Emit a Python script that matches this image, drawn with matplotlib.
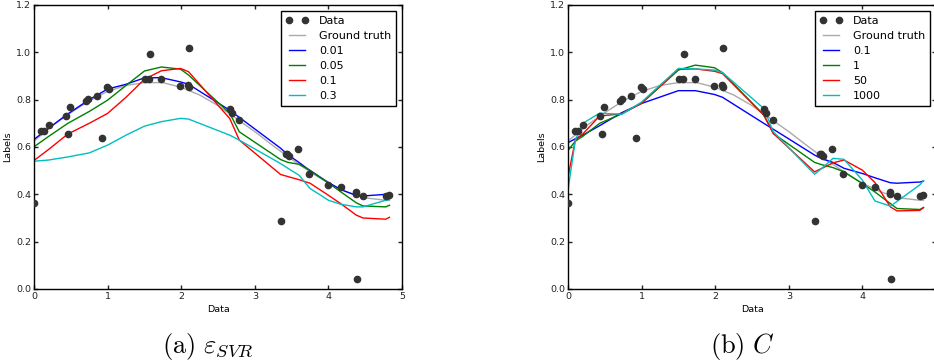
import matplotlib
matplotlib.use("Agg")
import matplotlib.pyplot as plt

plt.rcParams['mathtext.fontset'] = 'cm'

# Observed data
data_x = [0.0, 0.09, 0.14, 0.2, 0.43, 0.46, 0.49, 0.71, 0.74, 0.86, 0.93, 0.99, 1.02,
          1.51, 1.56, 1.58, 1.73, 1.99, 2.09, 2.10, 2.11, 2.66, 2.69, 2.79, 3.35, 3.42,
          3.44, 3.46, 3.59, 3.74, 4.00, 4.17, 4.38, 4.38, 4.39, 4.47, 4.78, 4.83]
data_y = [0.364, 0.667, 0.667, 0.695, 0.732, 0.656, 0.767, 0.795, 0.801, 0.817, 0.639,
          0.852, 0.843, 0.886, 0.887, 0.992, 0.887, 0.858, 0.860, 1.017, 0.852, 0.759,
          0.745, 0.712, 0.289, 0.571, 0.571, 0.564, 0.591, 0.487, 0.439, 0.432, 0.410,
          0.400, 0.044, 0.394, 0.395, 0.396]

# Ground truth
gt_x = [0.0, 0.25, 0.5, 0.75, 1.0, 1.25, 1.5, 1.75, 2.0, 2.25, 2.5, 2.75, 3.0, 3.25,
        3.5, 3.75, 4.0, 4.25, 4.5, 4.75, 4.83]
gt_y = [0.625, 0.69, 0.745, 0.795, 0.835, 0.86, 0.872, 0.872, 0.852, 0.82, 0.775, 0.72,
        0.665, 0.605, 0.548, 0.495, 0.447, 0.41, 0.385, 0.376, 0.375]

# (a) epsilon_SVR fits
fit_x_a = [0.0, 0.2, 0.46, 0.75, 1.0, 1.25, 1.5, 1.73, 1.99, 2.1, 2.66, 2.79, 3.35,
           3.45, 3.6, 3.75, 4.0, 4.17, 4.38, 4.47, 4.78, 4.83]
eps_labels = ['0.01', '0.05', '0.1', '0.3']
eps_001 = [0.632, 0.68, 0.74, 0.80, 0.845, 0.865, 0.892, 0.893, 0.875, 0.865, 0.755,
           0.725, 0.595, 0.567, 0.535, 0.50, 0.45, 0.42, 0.395, 0.393, 0.40, 0.40]
eps_005 = [0.601, 0.645, 0.70, 0.75, 0.798, 0.86, 0.921, 0.938, 0.929, 0.904, 0.742,
           0.664, 0.547, 0.535, 0.527, 0.502, 0.448, 0.41, 0.364, 0.351, 0.347, 0.354]
eps_01 = [0.543, 0.59, 0.655, 0.70, 0.742, 0.81, 0.886, 0.922, 0.932, 0.918, 0.72,
          0.629, 0.484, 0.475, 0.462, 0.447, 0.396, 0.36, 0.312, 0.30, 0.295, 0.303]
eps_03 = [0.540, 0.545, 0.558, 0.575, 0.608, 0.65, 0.688, 0.707, 0.721, 0.718, 0.650,
          0.629, 0.530, 0.51, 0.481, 0.425, 0.375, 0.358, 0.347, 0.347, 0.375, 0.378]

# (b) C fits
fit_x_b = [0.0, 0.1, 0.2, 0.43, 0.73, 1.0, 1.5, 1.73, 1.99, 2.1, 2.66, 2.79, 3.35,
           3.45, 3.6, 3.75, 4.0, 4.17, 4.38, 4.47, 4.78, 4.83]
c_labels = ['0.1', '1', '50', '1000']
c_01 = [0.618, 0.635, 0.65, 0.69, 0.745, 0.784, 0.838, 0.838, 0.822, 0.81, 0.70, 0.675,
        0.566, 0.55, 0.535, 0.51, 0.488, 0.47, 0.449, 0.447, 0.452, 0.456]
c_1 = [0.585, 0.625, 0.645, 0.70, 0.74, 0.785, 0.925, 0.946, 0.935, 0.914, 0.735, 0.657,
       0.535, 0.525, 0.513, 0.495, 0.445, 0.41, 0.361, 0.340, 0.336, 0.344]
c_50 = [0.474, 0.63, 0.655, 0.731, 0.74, 0.785, 0.928, 0.93, 0.92, 0.91, 0.735, 0.657,
        0.495, 0.51, 0.533, 0.545, 0.502, 0.45, 0.347, 0.330, 0.332, 0.344]
c_1000 = [0.418, 0.63, 0.70, 0.743, 0.738, 0.79, 0.932, 0.93, 0.925, 0.914, 0.763, 0.664,
          0.485, 0.51, 0.552, 0.548, 0.46, 0.372, 0.350, 0.37, 0.44, 0.458]

line_colors = ['#0000ff', '#008000', '#ff0000', '#00bfbf']

fig = plt.figure(figsize=(9.34, 3.64), dpi=100)
ax1 = fig.add_axes([34 / 934, 1 - 289 / 364, 368 / 934, 284 / 364])
ax2 = fig.add_axes([568 / 934, 1 - 289 / 364, 368 / 934, 284 / 364])


def draw(ax, fx, series, labels):
    ax.plot(data_x, data_y, 'o', color='#333333', markersize=4.5, label='Data',
            zorder=3)
    ax.plot(gt_x, gt_y, color='#aaaaaa', lw=1.0, label='Ground truth')
    for s, lab, col in zip(series, labels, line_colors):
        ax.plot(fx, s, color=col, lw=1.0, label=lab)
    ax.set_xlim(0, 5)
    ax.set_ylim(0, 1.2)
    ax.set_xticks([0, 1, 2, 3, 4, 5])
    ax.set_yticks([0.0, 0.2, 0.4, 0.6, 0.8, 1.0, 1.2])
    ax.set_yticklabels(['0.0', '0.2', '0.4', '0.6', '0.8', '1.0', '1.2'])
    ax.tick_params(direction='in', top=True, right=True, length=3, width=1,
                   labelsize=6.8, pad=2, colors='#222222')
    for sp in ax.spines.values():
        sp.set_linewidth(1.0)
    ax.set_xlabel('Data', fontsize=6.8, labelpad=3)
    ax.set_ylabel('Labels', fontsize=6.8, labelpad=3)
    leg = ax.legend(loc='upper right', numpoints=2, fontsize=8, fancybox=False,
                    framealpha=1, edgecolor='black', handlelength=2.0,
                    borderpad=0.45, labelspacing=0.45, handletextpad=1.0,
                    borderaxespad=0.5)
    leg.get_frame().set_linewidth(1.0)


draw(ax1, fit_x_a, [eps_001, eps_005, eps_01, eps_03], eps_labels)
draw(ax2, fit_x_b, [c_01, c_1, c_50, c_1000], c_labels)

fig.text(208 / 934, 1 - 347 / 364, r'$\mathrm{(a)}\ \varepsilon_{SVR}$', fontsize=19,
         ha='center', va='center')
fig.text(742 / 934, 1 - 347 / 364, r'$\mathrm{(b)}\ C$', fontsize=19,
         ha='center', va='center')

fig.savefig('out.png', dpi=100)
